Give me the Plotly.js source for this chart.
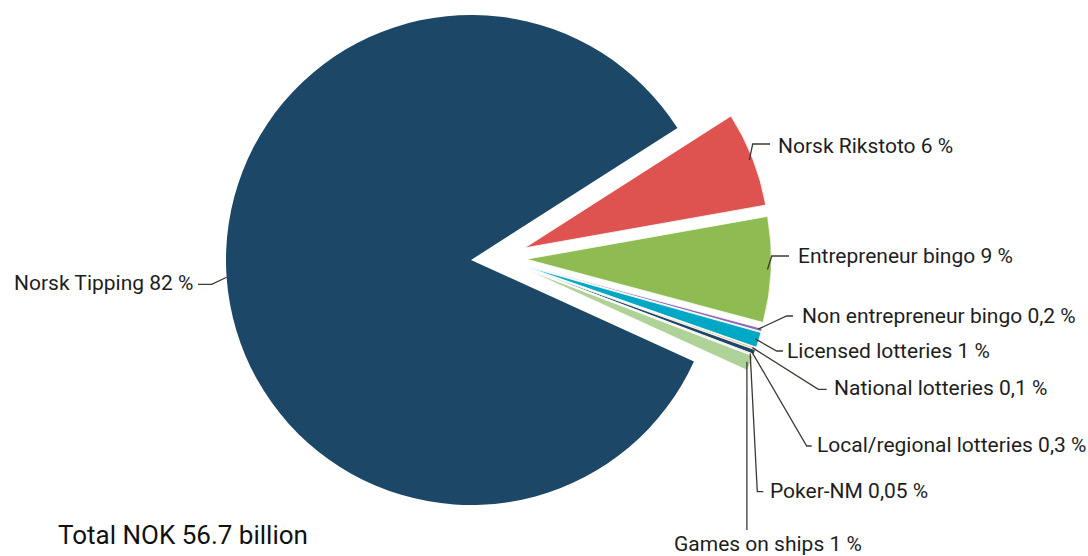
<!DOCTYPE html>
<html>
<head>
<meta charset="utf-8">
<script src="https://cdn.plot.ly/plotly-3.0.1.min.js"></script>
<style>
html,body{margin:0;padding:0;overflow:hidden;background:#fff;width:1088px;height:556px;}
#chart{position:absolute;left:0;top:-42px;width:1088px;height:640px;}
</style>
</head>
<body>
<div id="chart"></div>
<script>
// ---------- data ----------
const categories = ['Norsk Tipping', 'Norsk Rikstoto', 'Entrepreneur bingo', 'Non entrepreneur bingo',
  'Licensed lotteries', 'National lotteries', 'Local/regional lotteries', 'Poker-NM', 'Games on ships'];
const shares = [84.1, 6.25, 6.95, 0.2, 1, 0.1, 0.3, 0.05, 1];
const shareLabels = ['82 %', '6 %', '9 %', '0,2 %', '1 %', '0,1 %', '0,3 %', '0,05 %', '1 %'];
const totalLabel = 'Total NOK 56.7 billion';

// ---------- styles / layout constants ----------
const colors = ['#1c4766', '#de5350', '#8fbb53', '#8c68b0', '#00a8c6', '#f39137', '#1c4766', '#c8736f', '#afd298'];
const W = 1088, HD = 640, TOP = 42;          // div size and offset
const CX = 471, CY = 260, R = 245;           // pie centre / radius (page px)
const ROT = 114.5;                            // start angle of first slice (deg, clockwise from 12 o'clock)
const GROUP_SHIFT = 27.8;                     // px, whole exploded group shift
const PULL = 0.113;                           // individual pull of exploded slices
const LINE_COLOR = '#3f3833';
const FONT = 'Roboto, "Liberation Sans", Arial, sans-serif';
const TEXT_COLOR = '#1e1e1e';
const LABEL_SIZE = 21;

// label layout (page px): text position, elbow, end of horizontal stub
const labelPos = [
  {tx: 195,   ty: 283,   anchor: 'right',  ex: 211.7, ey: 284.3, hx: 198},
  {tx: 776,   ty: 146,   anchor: 'left',   ex: 752.7, ey: 144,   hx: 770},
  {tx: 796,   ty: 256,   anchor: 'left',   ex: 771.7, ey: 256,   hx: 789},
  {tx: 799.5, ty: 316,   anchor: 'left',   ex: 786.7, ey: 316,   hx: 793},
  {tx: 785,   ty: 350.5, anchor: 'left',   ex: 776.7, ey: 351,   hx: 783},
  {tx: 831.5, ty: 388,   anchor: 'left',   ex: 818.3, ey: 389.3, hx: 826.7},
  {tx: 814.5, ty: 444.5, anchor: 'left',   ex: 806.7, ey: 446,   hx: 811.7},
  {tx: 768,   ty: 491,   anchor: 'left',   ex: 757.3, ey: 491.7, hx: 763.3},
  {tx: 768,   ty: 544,   anchor: 'center', ex: null,  ey: 530,   hx: null}
];

const px = x => x / W;
const py = y => 1 - (y + TOP) / HD;
const deg = Math.PI / 180;

const total = shares.reduce((a, b) => a + b, 0);
const frac0 = shares[0] / total;
const groupMid = (ROT + 360 * (frac0 + (1 - frac0) / 2)) * deg;
const gcx = CX + GROUP_SHIFT * Math.sin(groupMid);
const gcy = CY - GROUP_SHIFT * Math.cos(groupMid);

const clear = 'rgba(0,0,0,0)';
const n = categories.length;

const traceA = {
  type: 'pie', values: shares, labels: categories, sort: false, direction: 'clockwise', rotation: ROT,
  textinfo: 'none', hoverinfo: 'skip', showlegend: false,
  marker: {colors: colors.map((c, i) => i === 0 ? c : clear),
           line: {color: '#ffffff', width: categories.map(() => 0)}},
  domain: {x: [px(CX - R), px(CX + R)], y: [py(CY + R), py(CY - R)]}
};
const half = R * (1 + PULL);
const traceB = {
  type: 'pie', values: shares, labels: categories, sort: false, direction: 'clockwise', rotation: ROT,
  textinfo: 'none', hoverinfo: 'skip', showlegend: false,
  pull: categories.map((c, i) => i === 0 ? 0 : PULL),
  marker: {colors: colors.map((c, i) => i === 0 ? clear : c),
           line: {color: '#ffffff', width: categories.map((c, i) => i === 0 ? 0 : 0.8)}},
  domain: {x: [px(gcx - half), px(gcx + half)], y: [py(gcy + half), py(gcy - half)]}
};

// leader lines & labels
const shapes = [];
const annotations = [];
let cum = 0;
for (let i = 0; i < n; i++) {
  const a = (ROT + 360 * (cum + shares[i] / 2) / total) * deg;
  cum += shares[i];
  const sx = Math.sin(a), sy = -Math.cos(a);
  let ox, oy, k;
  if (i === 0) { ox = CX; oy = CY; k = 1.0; }
  else { ox = gcx + PULL * R * sx; oy = gcy + PULL * R * sy; k = 0.985; }
  const x0 = ox + k * R * sx, y0 = oy + k * R * sy;
  const L = labelPos[i];
  let path;
  if (L.ex === null) {
    path = `M ${px(x0)},${py(y0)} L ${px(x0)},${py(L.ey)}`;
  } else {
    path = `M ${px(x0)},${py(y0)} L ${px(L.ex)},${py(L.ey)} L ${px(L.hx)},${py(L.ey)}`;
  }
  shapes.push({type: 'path', xref: 'paper', yref: 'paper', path: path,
               line: {color: LINE_COLOR, width: 1.3}});
  annotations.push({
    xref: 'paper', yref: 'paper', x: px(L.tx), y: py(L.ty),
    xanchor: L.anchor, yanchor: 'middle', showarrow: false,
    text: categories[i] + ' ' + shareLabels[i],
    font: {family: FONT, size: LABEL_SIZE, color: TEXT_COLOR}
  });
}
annotations.push({
  xref: 'paper', yref: 'paper', x: px(56), y: py(535), xanchor: 'left', yanchor: 'middle',
  showarrow: false, text: totalLabel, font: {family: FONT, size: 26, color: '#111111'}
});

const layout = {
  width: W, height: HD, margin: {l: 0, r: 0, t: 0, b: 0},
  paper_bgcolor: '#ffffff', plot_bgcolor: '#ffffff', showlegend: false,
  shapes: shapes, annotations: annotations
};
Plotly.newPlot('chart', [traceA, traceB], layout, {staticPlot: true, displayModeBar: false});
</script>
</body>
</html>
